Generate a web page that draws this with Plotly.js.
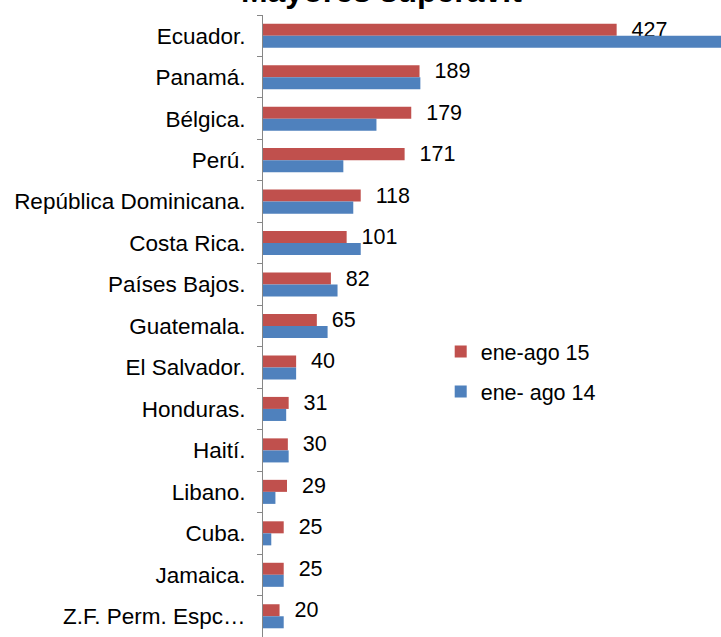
<!DOCTYPE html>
<html>
<head>
<meta charset="utf-8">
<script src="https://cdn.plot.ly/plotly-3.0.1.min.js"></script>
<style>
  html, body { margin: 0; padding: 0; background: #fff; }
  #chart { width: 721px; height: 637px; }
</style>
</head>
<body>
<div id="chart"></div>
<script>
// categories, top to bottom
const paises = [
    "Ecuador.", "Panamá.", "Bélgica.", "Perú.", "República Dominicana.",
    "Costa Rica.", "Países Bajos.", "Guatemala.", "El Salvador.", "Honduras.",
    "Haití.", "Libano.", "Cuba.", "Jamaica.", "Z.F. Perm. Espc…"
];
// ene-ago 15 (labelled)
const eneAgo15 = [427, 189, 179, 171, 118, 101, 82, 65, 40, 31, 30, 29, 25, 25, 20];
// ene-ago 14 (no labels)
const eneAgo14 = [560, 190, 137, 97, 109, 118, 90, 78, 40, 28, 31, 15, 10, 25, 25];

const rojo = '#C0504D';
const azul = '#4F81BD';
const fuente = 'Arial, "Liberation Sans", sans-serif';
const tam = 21.5;

const traces = [
    {
        type: 'bar',
        orientation: 'h',
        name: 'ene-ago 15',
        legendgroup: 'a',
        y: paises,
        x: eneAgo15,
        marker: { color: rojo, line: { width: 0 } },
        texttemplate: '\u00a0\u00a0%{x}',
        textposition: 'outside',
        constraintext: 'none',
        cliponaxis: false,
        textfont: { family: fuente, size: tam, color: '#000' },
        hoverinfo: 'x+y'
    },
    {
        type: 'bar',
        orientation: 'h',
        name: 'ene- ago 14',
        legendgroup: 'b',
        y: paises,
        x: eneAgo14,
        marker: { color: azul, line: { width: 0 } },
        hoverinfo: 'x+y'
    }
];

const layout = {
    width: 721,
    height: 637,
    margin: { l: 263, r: 0, t: 15, b: 0 },
    paper_bgcolor: '#fff',
    plot_bgcolor: '#fff',
    font: { family: fuente, size: tam, color: '#000' },
    title: {
        text: '<b>Mayores superávit</b>',
        font: { family: fuente, size: 32, color: '#000' },
        xref: 'container', x: 0.529, xanchor: 'center',
        yref: 'container', y: 0.997, yanchor: 'bottom'
    },
    barmode: 'group',
    bargap: 0.42,
    bargroupgap: 0,
    showlegend: true,
    legend: {
        x: 0.388, y: 0.492, xanchor: 'left', yanchor: 'top',
        bgcolor: 'rgba(0,0,0,0)',
        font: { family: fuente, size: tam, color: '#000' },
        traceorder: 'grouped',
        tracegroupgap: 9
    },
    xaxis: {
        range: [0, 553],
        showgrid: false, zeroline: false, showline: false,
        showticklabels: false, ticks: '', fixedrange: true
    },
    yaxis: {
        type: 'category',
        autorange: 'reversed',
        showgrid: false, zeroline: false,
        showline: true, linecolor: '#868686', linewidth: 1,
        ticks: 'outside', tickson: 'boundaries', ticklen: 5,
        tickcolor: '#868686', tickwidth: 1,
        ticklabelstandoff: 12,
        tickfont: { family: fuente, size: 22.5, color: '#000' }
    }
};

Plotly.newPlot('chart', traces, layout, { displayModeBar: false, responsive: false });
</script>
</body>
</html>
